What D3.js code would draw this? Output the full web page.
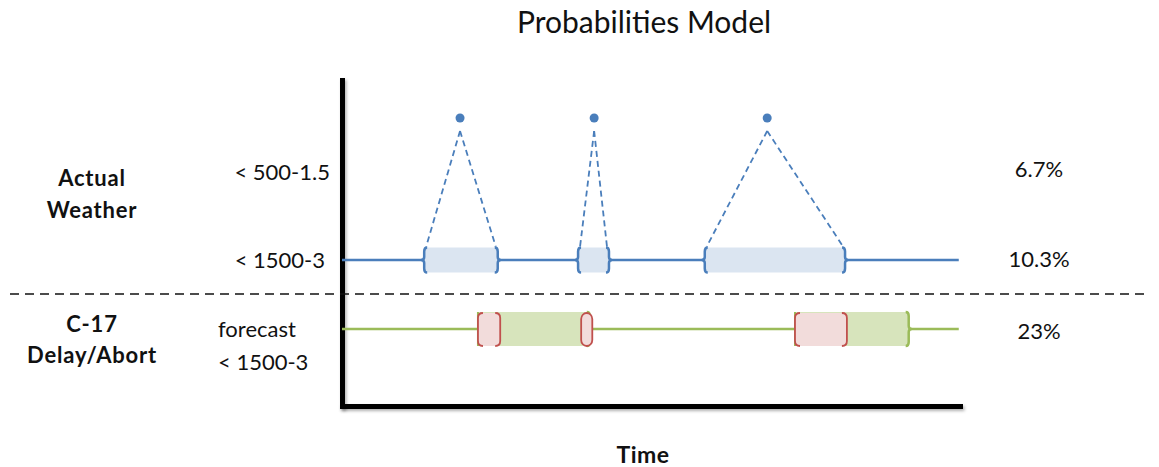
<!DOCTYPE html>
<html>
<head>
<meta charset="utf-8">
<script src="https://cdn.jsdelivr.net/npm/d3@7"></script>
<style>
  body { margin: 0; background: #fff; }
  text { font-family: Lato, "Open Sans", sans-serif; fill: #111; }
</style>
</head>
<body>
<script>
// chart values, time runs 0..100 along the axis
var timeDomain = [0, 100];
var peakTimes = [19.1, 40.8, 68.8];
var weatherWindows = [[13.3, 25.2], [38.2, 43.2], [58.7, 81.4]];
var delayWindows = [[22, 40.1], [73.3, 91.7]];
var forecastWindows = [[22, 25.6], [38.7, 40.5], [73.3, 81.7]];
var rows = ["peak", "weather", "forecast"];
var rowLabels = [["< 500-1.5"], ["< 1500-3"], ["forecast", "< 1500-3"]];
var rowProbabilities = ["6.7%", "10.3%", "23%"];
var groupLabels = [["Actual", "Weather"], ["C-17", "Delay/Abort"]];

var blue = "#4a7ebb", blueFill = "#dbe5f1";
var green = "#9bbb59", greenFill = "#d7e4bc";
var red = "#c0504d", redFill = "#f2dcdb";

var width = 1159, height = 467;
var svg = d3.select("body").append("svg").attr("width", width).attr("height", height);

var defs = svg.append("defs");
var shadow = defs.append("filter").attr("id", "shadow").attr("filterUnits", "userSpaceOnUse")
  .attr("x", -1000).attr("y", -1000).attr("width", 3000).attr("height", 3000);
shadow.append("feDropShadow").attr("dx", 1.5).attr("dy", 2).attr("stdDeviation", 1.5)
  .attr("flood-color", "#000").attr("flood-opacity", 0.3);

var x = d3.scaleLinear().domain(timeDomain).range([342, 960]);
var y = d3.scaleOrdinal().domain(rows).range([118, 260, 329]);
var yAxisScale = d3.scaleLinear().domain([0, 1]).range([406, 80]);

// title
svg.append("text").attr("x", 644).attr("y", 33).attr("text-anchor", "middle")
  .style("font-size", "30px").text("Probabilities Model");

// axes (no ticks)
var gx = svg.append("g").attr("transform", "translate(0," + 406 + ")")
  .call(d3.axisBottom(x).tickValues([]).tickSizeOuter(0));
var gy = svg.append("g").attr("transform", "translate(" + 342 + ",0)")
  .call(d3.axisLeft(yAxisScale).tickValues([]).tickSizeOuter(0));
[gx, gy].forEach(function(g) {
  g.select(".domain").attr("stroke", "#000").attr("stroke-width", 5)
    .attr("stroke-linecap", "square").attr("filter", "url(#shadow)");
});

svg.append("text").attr("x", 643).attr("y", 463).attr("text-anchor", "middle")
  .style("font-size", "23px").style("font-weight", "bold").style("letter-spacing", "0.5px").text("Time");

// separator between the two groups
svg.append("line").attr("x1", 10).attr("x2", 1150).attr("y1", 294).attr("y2", 294)
  .attr("stroke", "#111").attr("stroke-width", 1.6).attr("stroke-dasharray", "9,6");

// group labels
var groupY = [[186, 218], [332, 363]];
groupLabels.forEach(function(lines, i) {
  lines.forEach(function(t, j) {
    svg.append("text").attr("x", 92).attr("y", groupY[i][j]).attr("text-anchor", "middle")
      .style("font-size", "22px").style("font-weight", "bold").style("letter-spacing", "0.8px").text(t);
  });
});

// row labels
var rowLabelPos = [[[330, 180]], [[325, 268]], [[218, 337], [218, 370]]];
rowLabels.forEach(function(lines, i) {
  lines.forEach(function(t, j) {
    var p = rowLabelPos[i][j];
    svg.append("text").attr("x", p[0]).attr("y", p[1])
      .attr("text-anchor", i == 2 ? "start" : "end")
      .style("font-size", "22px").text(t);
  });
});

// probabilities
var probY = [177, 267, 339];
rowProbabilities.forEach(function(t, i) {
  svg.append("text").attr("x", 1039).attr("y", probY[i]).attr("text-anchor", "middle")
    .style("font-size", "22px").text(t);
});

// curly brace end, dir -1 = "{" , +1 = "}"
function brace(px, cy, h, dir) {
  var t = cy - h / 2, b = cy + h / 2, c = 3 * dir;
  return "M" + (px - c) + "," + t +
    " Q" + px + "," + t + " " + px + "," + (t + 4) +
    " L" + px + "," + (cy - 3) +
    " Q" + px + "," + cy + " " + (px + c) + "," + cy +
    " Q" + px + "," + cy + " " + px + "," + (cy + 3) +
    " L" + px + "," + (b - 4) +
    " Q" + px + "," + b + " " + (px - c) + "," + b;
}

// rounded side of a box, dir -1 = left side, +1 = right side
function roundSide(px, top, bot, dir) {
  var r = 5, c = -r * dir;
  return "M" + (px + c) + "," + top +
    " Q" + px + "," + top + " " + px + "," + (top + r) +
    " L" + px + "," + (bot - r) +
    " Q" + px + "," + bot + " " + (px + c) + "," + bot;
}

// weather row
var wy = y("weather");
var wh = 25;
svg.selectAll(".wbox").data(weatherWindows).enter().append("rect")
  .attr("x", function(d) { return x(d[0]); })
  .attr("width", function(d) { return x(d[1]) - x(d[0]); })
  .attr("y", wy - wh / 2).attr("height", wh)
  .attr("fill", blueFill);

// weather line segments outside the windows
var wGaps = [[timeDomain[0], weatherWindows[0][0]]];
for (var i = 0; i < weatherWindows.length - 1; i++) wGaps.push([weatherWindows[i][1], weatherWindows[i + 1][0]]);
wGaps.push([weatherWindows[weatherWindows.length - 1][1], 99.8]);
svg.selectAll(".wline").data(wGaps).enter().append("line")
  .attr("x1", function(d) { return x(d[0]); }).attr("x2", function(d) { return x(d[1]); })
  .attr("y1", wy).attr("y2", wy).attr("stroke", blue).attr("stroke-width", 2.5);

weatherWindows.forEach(function(d) {
  svg.append("path").attr("d", brace(x(d[0]), wy, wh, -1)).attr("fill", "none")
    .attr("stroke", blue).attr("stroke-width", 2.5);
  svg.append("path").attr("d", brace(x(d[1]), wy, wh, 1)).attr("fill", "none")
    .attr("stroke", blue).attr("stroke-width", 2.5);
});

// peaks and the dashed lines down to their windows
var py = y("peak");
peakTimes.forEach(function(t, i) {
  var w = weatherWindows[i];
  [[w[0], 2], [w[1], -2]].forEach(function(e) {
    svg.append("line").attr("x1", x(t)).attr("y1", py + 13)
      .attr("x2", x(e[0]) + e[1]).attr("y2", wy - wh / 2 - 1)
      .attr("stroke", blue).attr("stroke-width", 1.8).attr("stroke-dasharray", "6,4");
  });
});
svg.selectAll(".peak").data(peakTimes).enter().append("circle")
  .attr("cx", function(d) { return x(d); }).attr("cy", py).attr("r", 4.5).attr("fill", blue);

// forecast row
var fy = y("forecast");
var fh = 34;
svg.append("line").attr("x1", x(timeDomain[0])).attr("x2", x(99.8)).attr("y1", fy).attr("y2", fy)
  .attr("stroke", green).attr("stroke-width", 2.5);
svg.selectAll(".gbox").data(delayWindows).enter().append("rect")
  .attr("x", function(d) { return x(d[0]); })
  .attr("width", function(d) { return x(d[1]) - x(d[0]); })
  .attr("y", fy - fh / 2).attr("height", fh)
  .attr("fill", greenFill);
delayWindows.forEach(function(d) {
  svg.append("line").attr("x1", x(d[0])).attr("x2", x(d[0]))
    .attr("y1", fy - fh / 2).attr("y2", fy + fh / 2).attr("stroke", green).attr("stroke-width", 2);
  svg.append("path").attr("d", brace(x(d[1]), fy, fh, 1)).attr("fill", "none")
    .attr("stroke", green).attr("stroke-width", 2.5);
});

forecastWindows.forEach(function(d) {
  var x0 = x(d[0]), x1 = x(d[1]);
  var top = fy - fh / 2 + 1, bot = fy + fh / 2;
  if (x1 - x0 < 16) {
    svg.append("rect").attr("x", x0).attr("y", top).attr("width", x1 - x0).attr("height", bot - top)
      .attr("rx", (x1 - x0) / 2).attr("ry", 6)
      .attr("fill", redFill).attr("stroke", red).attr("stroke-width", 1.8);
  } else {
    svg.append("rect").attr("x", x0).attr("y", top).attr("width", x1 - x0).attr("height", bot - top)
      .attr("rx", 5).attr("fill", redFill);
    svg.append("path").attr("d", roundSide(x0, top, bot, -1)).attr("fill", "none")
      .attr("stroke", red).attr("stroke-width", 1.8);
    svg.append("path").attr("d", roundSide(x1, top, bot, 1)).attr("fill", "none")
      .attr("stroke", red).attr("stroke-width", 1.8);
  }
});
</script>
</body>
</html>
